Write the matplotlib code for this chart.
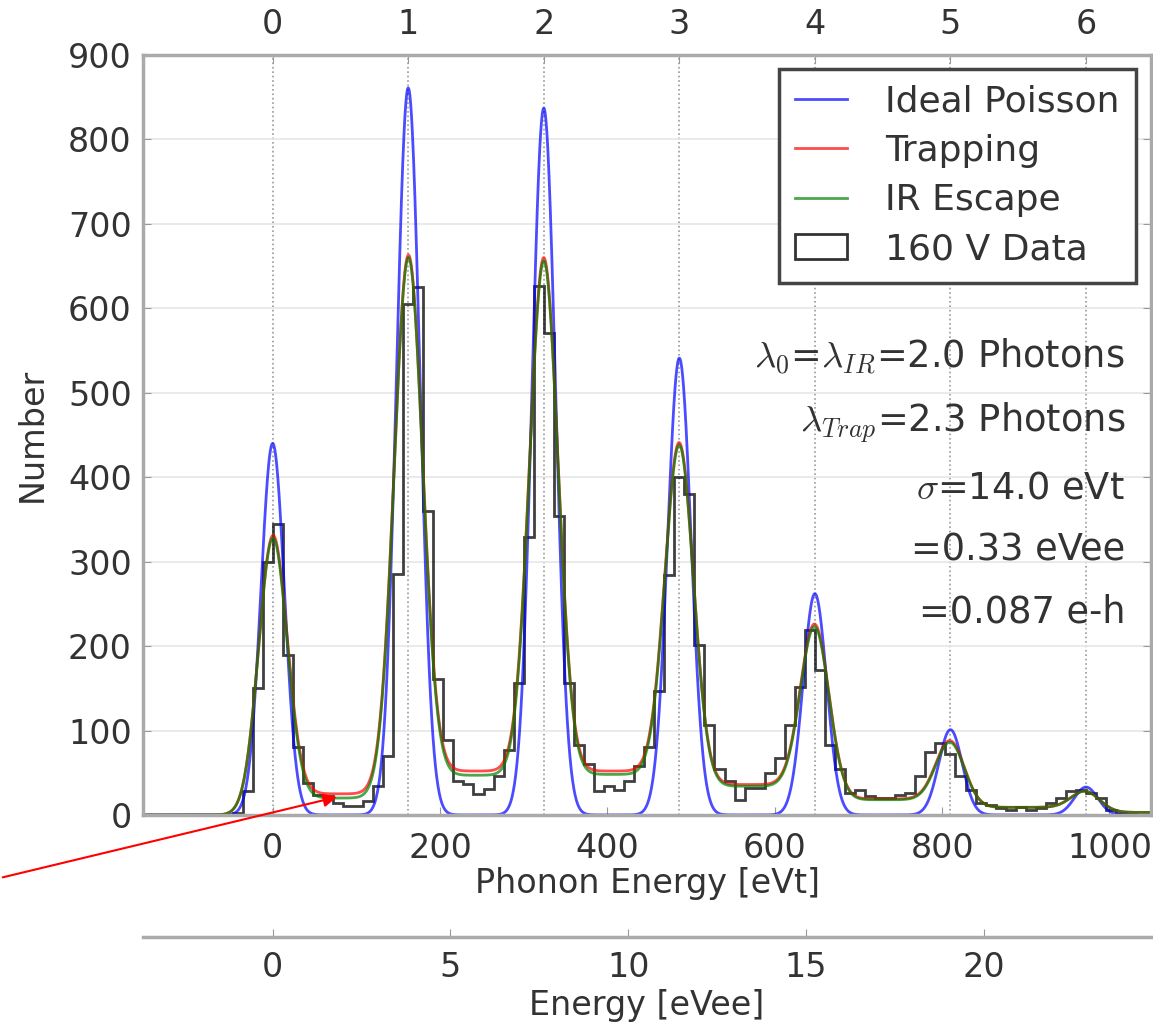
import math
import numpy as np
import matplotlib
matplotlib.use("Agg")
import matplotlib.pyplot as plt
from matplotlib.patches import Patch

# photon peaks
E_PH = 162.0        # eVt per photon at 160 V
EVT_PER_EVEE = 42.5
photon_n = [0, 1, 2, 3, 4, 5, 6]

# peak heights (counts at each photon peak)
ideal_peak = [440, 861, 837, 541, 262, 101, 33]
trap_peak = [331, 663, 660, 441, 226, 88, 28]
ir_peak = [328, 660, 656, 438, 223, 86, 28]
# continuum level between peak n and n+1
trap_plateau = [25, 52, 52, 36, 19, 9, 3]
ir_plateau = [20, 47, 48, 34, 18, 9, 3]
ideal_plateau = [0, 0, 0, 0, 0, 0, 0]
sigma_ideal = 14.0
sigma_model = 17.0

# 160 V data histogram, 12 eVt bins starting at -156 eVt
bin_lo, bin_w = -156, 12
counts = [0, 0, 0, 0, 0, 0, 0, 0, 0, 2,
          28, 150, 300, 345, 190, 80, 38, 24, 22, 14,
          11, 11, 17, 34, 70, 285, 605, 625, 360, 161,
          89, 40, 37, 25, 31, 46, 77, 156, 329, 626,
          571, 354, 156, 83, 60, 28, 34, 30, 40, 58,
          80, 147, 284, 400, 380, 201, 106, 54, 40, 18,
          32, 32, 50, 68, 107, 151, 219, 172, 83, 54,
          26, 30, 22, 20, 20, 24, 26, 46, 74, 85,
          72, 46, 30, 14, 12, 8, 6, 10, 6, 8,
          14, 20, 28, 30, 26, 20, 6, 2, 1, 0, 0]

edges = bin_lo + bin_w * np.arange(len(counts) + 1)

x = np.linspace(-155, 1050, 2400)
erf = np.vectorize(math.erf)


def model(heights, plateaus, sig):
    y = np.zeros_like(x)
    for n, h in zip(photon_n, heights):
        left = plateaus[n - 1] if n > 0 else 0
        a = h - 0.5 * (left + plateaus[n])
        y += a * np.exp(-0.5 * ((x - n * E_PH) / sig) ** 2)
    for n, b in zip(photon_n, plateaus):
        lo, hi = n * E_PH, (n + 1) * E_PH
        s2 = sig * np.sqrt(2)
        y += b * 0.5 * (erf((x - lo) / s2) - erf((x - hi) / s2))
    return y


plt.rcParams['mathtext.fontset'] = 'cm'
plt.rcParams['font.size'] = 24
txt = '#333333'

fig = plt.figure(figsize=(11.53, 10.26), dpi=100)
ax = fig.add_axes([0.124, 0.2057, 0.8745, 0.7407])

l1, = ax.plot(x, model(ideal_peak, ideal_plateau, sigma_ideal), color='b', alpha=0.7, lw=2)
l2, = ax.plot(x, model(trap_peak, trap_plateau, sigma_model), color='r', alpha=0.7, lw=2)
l3, = ax.plot(x, model(ir_peak, ir_plateau, sigma_model), color='g', alpha=0.7, lw=2)
ax.stairs(counts, edges, color='k', alpha=0.75, lw=2)

for n in photon_n:
    ax.axvline(n * E_PH, color='#999999', ls=':', lw=1.2, zorder=0)
ax.yaxis.grid(True, color='#e6e6e6', lw=1.2)
ax.set_axisbelow(True)

ax.set_xlim(-155, 1050)
ax.set_ylim(0, 900)
ax.set_xticks([0, 200, 400, 600, 800, 1000])
ax.set_yticks(range(0, 901, 100))
ax.tick_params(direction='in', length=6, color='#999999', labelcolor=txt, right=True)
ax.tick_params(axis='x', pad=12)
ax.tick_params(axis='y', pad=8)
for s in ax.spines.values():
    s.set_color('#aaaaaa')
    s.set_linewidth(2.5)

ax.set_xlabel('Phonon Energy [eVt]', color=txt, labelpad=2)
ax.set_ylabel('Number', color=txt, labelpad=14)

top = ax.secondary_xaxis('top', functions=(lambda v: v / E_PH, lambda n: n * E_PH))
top.set_xticks(photon_n)
top.tick_params(direction='in', length=6, color='#999999', labelcolor=txt, pad=10)
top.spines['top'].set_visible(False)

bot = ax.secondary_xaxis(-0.1605, functions=(lambda v: v / EVT_PER_EVEE, lambda e: e * EVT_PER_EVEE))
bot.set_xticks([0, 5, 10, 15, 20])
bot.tick_params(direction='in', length=6, color='#999999', labelcolor=txt, pad=10)
bot.spines['bottom'].set_color('#aaaaaa')
bot.spines['bottom'].set_linewidth(2.5)
bot.set_xlabel('Energy [eVee]', color=txt, labelpad=4)

data_patch = Patch(facecolor='none', edgecolor='k', lw=2, alpha=0.8)
leg = ax.legend([l1, l2, l3, data_patch],
                ['Ideal Poisson', 'Trapping', 'IR Escape', '160 V Data'],
                loc='upper right', bbox_to_anchor=(0.985, 0.982), borderaxespad=0,
                fancybox=False, framealpha=1, fontsize=26, handlelength=1.45,
                handletextpad=1.05, labelspacing=0.42, borderpad=0.45)
leg.get_frame().set_edgecolor('#444444')
leg.get_frame().set_linewidth(2.5)
for t in leg.get_texts():
    t.set_color(txt)

notes = [r'$\lambda_0$=$\lambda_{IR}$=2.0 Photons',
         r'$\lambda_{Trap}$=2.3 Photons',
         r'$\sigma$=14.0 eVt',
         '=0.33 eVee',
         '=0.087 e-h']
note_y = [0.603, 0.516, 0.430, 0.349, 0.267]
for s, yy in zip(notes, note_y):
    ax.text(0.974, yy, s, transform=ax.transAxes, ha='right', va='center',
            color=txt, fontsize=26.5)

ax.annotate('', xy=(80, 22), xycoords='data', xytext=(0, 148), textcoords='figure pixels',
            arrowprops=dict(arrowstyle='-|>', color='red', lw=1.5, mutation_scale=20),
            annotation_clip=False)

fig.savefig('out.png', dpi=100)
